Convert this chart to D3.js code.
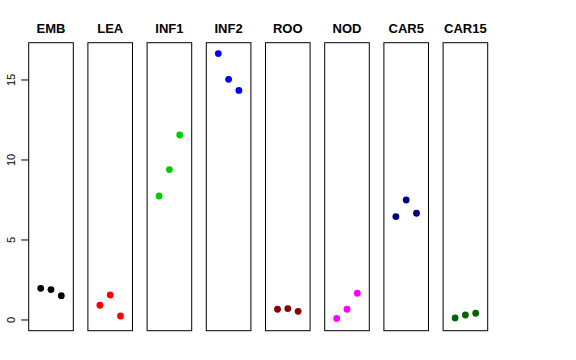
<!DOCTYPE html>
<html><head><meta charset="utf-8">
<script src="https://cdn.jsdelivr.net/npm/d3@7"></script>
<style>body{margin:0;background:#fff}svg{display:block}text{font-family:"Liberation Sans",Arial,sans-serif}</style>
</head><body>
<script>
const categories = ["EMB","LEA","INF1","INF2","ROO","NOD","CAR5","CAR15"];
const colors = ["#000000","#FF0000","#00CD00","#0000FF","#8B0000","#FF00FF","#000080","#006400"];
const rep1 = [1.98, 0.92, 7.75, 16.65, 0.67, 0.10, 6.46, 0.13];
const rep2 = [1.90, 1.56, 9.40, 15.04, 0.71, 0.67, 7.50, 0.31];
const rep3 = [1.52, 0.25, 11.56, 14.35, 0.54, 1.67, 6.67, 0.42];
const yTicks = [0, 5, 10, 15];

(function(){
const W = 576, H = 360;
const svg = d3.select("body").append("svg").attr("width", W).attr("height", H);

const pTop = 42.7, pBottom = 330.7;
const y = d3.scaleLinear().domain([-0.67, 17.33]).range([pBottom, pTop]);
const band = d3.scaleBand().domain(categories).range([28.7, 487.7]).paddingInner(0.2466).paddingOuter(0);
const bw = band.bandwidth();
const xr = d3.scaleLinear().domain([2 - 2.165, 2 + 2.165]).range([0, bw]);

const yAxis = svg.append("g").attr("transform", `translate(${band(categories[0])},0)`);
yAxis.selectAll("line.tk").data(yTicks).join("line")
  .attr("x1", -7.5).attr("x2", 0)
  .attr("y1", d => y(d)).attr("y2", d => y(d))
  .attr("stroke", "#000").attr("stroke-width", 1);
yAxis.selectAll("text").data(yTicks).join("text")
  .attr("transform", d => `translate(-14,${y(d)}) rotate(-90)`)
  .attr("text-anchor", "middle").attr("font-size", 11).text(d => d);

categories.forEach((c, i) => {
  const g = svg.append("g").attr("transform", `translate(${band(c)},0)`);
  g.append("rect").attr("x", 0).attr("y", pTop).attr("width", bw).attr("height", pBottom - pTop)
    .attr("fill", "none").attr("stroke", "#000").attr("stroke-width", 1);
  g.append("text").attr("x", bw / 2).attr("y", 33).attr("text-anchor", "middle")
    .attr("font-size", 13).attr("font-weight", "bold").text(c);
  const vals = [rep1[i], rep2[i], rep3[i]];
  g.selectAll("circle").data(vals).join("circle")
    .attr("cx", (d, j) => xr(j + 1)).attr("cy", d => y(d)).attr("r", 3.4)
    .attr("fill", colors[i]);
});
})();
</script>
</body></html>
